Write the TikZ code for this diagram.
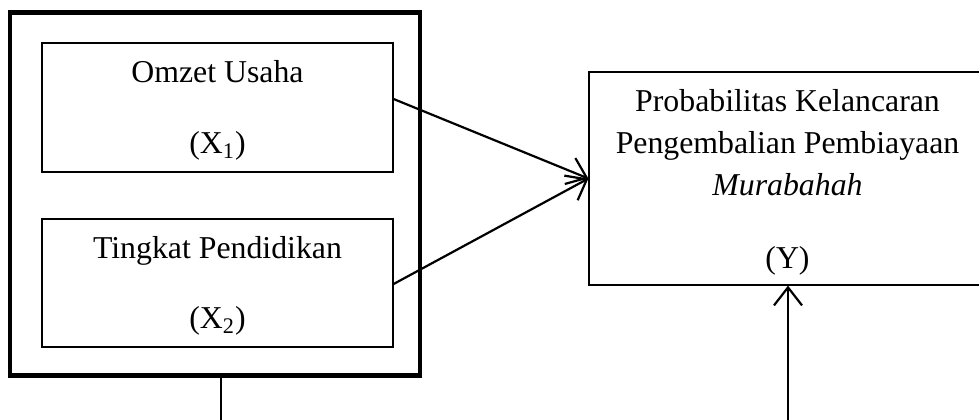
\documentclass[tikz,border=0pt]{standalone}
\usepackage{fontspec}
\setmainfont{Liberation Serif}
\usetikzlibrary{arrows.meta,calc}
\begin{document}
\begin{tikzpicture}[x=0.5pt,y=-0.5pt,
  thinbox/.style={draw,line width=0.6pt,inner sep=0pt,rectangle},
  txt/.style={anchor=base,inner sep=0pt,font=\fontsize{15.9}{19}\selectfont},
  conn/.style={line width=1.1pt,-{Straight Barb[length=9pt,width=14pt,line width=1.1pt]}},
  plain/.style={line width=1.1pt}]
\useasboundingbox (0,0) rectangle (979,419);
\clip (0,0) rectangle (979,419);
\node[draw,line width=2.4pt,inner sep=0pt,minimum width=205pt,minimum height=181.5pt] (outer) at (215,194) {};
\node[thinbox,minimum width=175.5pt,minimum height=64.5pt] (b1) at (217.5,107.5) {};
\node[thinbox,minimum width=175.5pt,minimum height=64pt] (b2) at (217.5,283) {};
\node[thinbox,minimum width=198.5pt,minimum height=106.5pt] (y) at (787.5,178.5) {};
\node[txt] (t1) at (217.5,82.5) {Omzet Usaha};
\node[txt] (t1x) at (217.5,153.5) {(X\textsubscript{1})};
\node[txt] (t2) at (217.5,258) {Tingkat Pendidikan};
\node[txt] (t2x) at (217.5,328) {(X\textsubscript{2})};
\node[txt] (ty1) at (787.5,111.5) {Probabilitas Kelancaran};
\node[txt] (ty2) at (787.5,153.5) {Pengembalian Pembiayaan};
\node[txt] (ty3) at (787.5,195) {\itshape Murabahah};
\node[txt] (ty4) at (787.5,268) {(Y)};
\coordinate (c1) at (221,425);
\coordinate (c2) at (788,425);
\draw[conn] ($(b1.east)+(0,-8.5)$) -- (y.west);
\draw[conn] ($(b2.east)+(0,1)$) -- (y.west);
\draw[plain] (outer.south -| c1) -- (c1);
\draw[conn] (c2) -- (y.south -| c2);
\end{tikzpicture}
\end{document}
